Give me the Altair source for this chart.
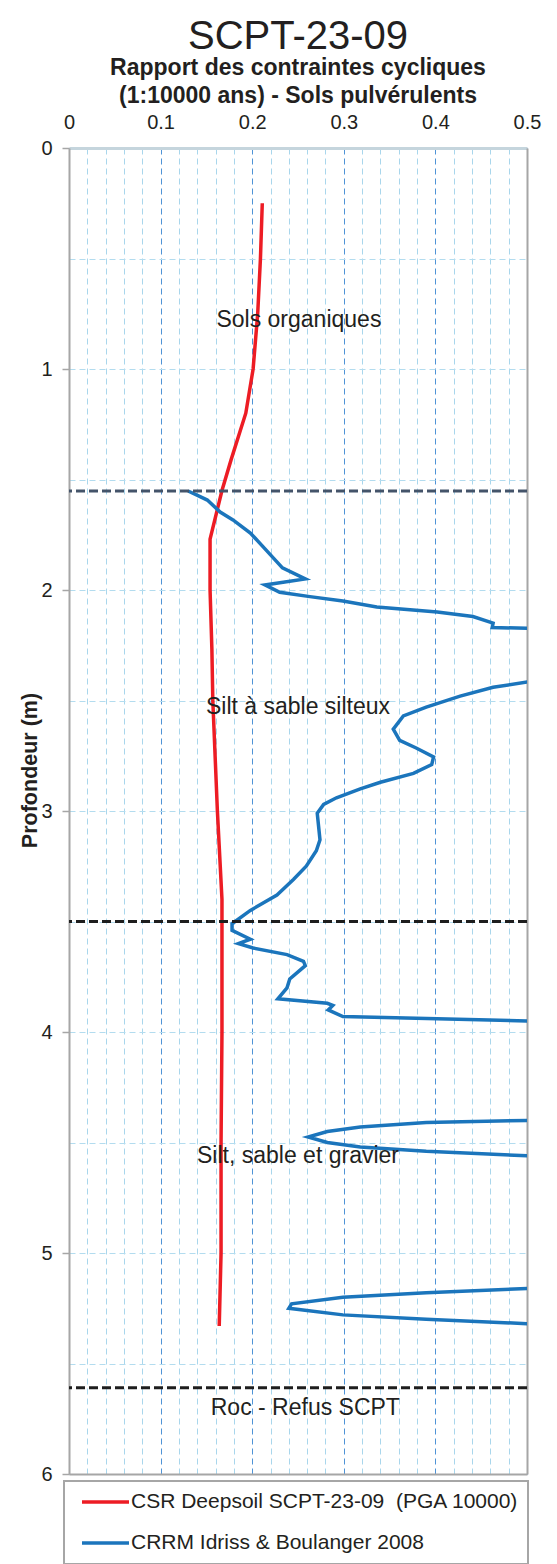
import altair as alt
import pandas as pd

FONT = "Liberation Sans"
TEXT_COLOR = "#231f20"

# CSR profile from Deepsoil (PGA 1:10000 ans)
csr_depth = [0.25, 0.5, 0.75, 1.0, 1.2, 1.41, 1.55, 1.77, 2.0, 2.27, 2.5,
             3.0, 3.4, 3.6, 4.0, 4.5, 5.0, 5.33]
csr_value = [0.211, 0.209, 0.206, 0.201, 0.193, 0.177, 0.167, 0.154, 0.154,
             0.156, 0.157, 0.162, 0.167, 0.167, 0.167, 0.166, 0.166, 0.164]

# CRR profile, Idriss & Boulanger 2008 (values beyond 0.5 run off the axis)
crr_depth = [1.552, 1.575, 1.593, 1.647, 1.683, 1.742, 1.805, 1.90, 1.95, 1.977,
             2.01, 2.03, 2.05, 2.077, 2.10, 2.12, 2.15, 2.17, 2.178, 2.37,
             2.416, 2.44, 2.48, 2.53, 2.57, 2.63, 2.68, 2.715, 2.755, 2.79,
             2.83, 2.87, 2.90, 2.94, 2.97, 3.01, 3.13, 3.18, 3.25, 3.31,
             3.38, 3.45, 3.51, 3.54, 3.58, 3.60, 3.62, 3.65, 3.68, 3.70,
             3.76, 3.80, 3.85, 3.87, 3.88, 3.90, 3.93, 3.94, 3.95, 3.951,
             4.399, 4.40, 4.41, 4.43, 4.45, 4.475, 4.50, 4.52, 4.54, 4.56,
             4.561, 5.159, 5.16, 5.18, 5.20, 5.23, 5.25, 5.28, 5.30, 5.32, 5.322]
crr_value = [0.130, 0.142, 0.151, 0.165, 0.179, 0.198, 0.212, 0.233, 0.258, 0.214,
             0.230, 0.263, 0.299, 0.336, 0.402, 0.441, 0.463, 0.462, 0.57, 0.57,
             0.501, 0.463, 0.427, 0.390, 0.365, 0.354, 0.361, 0.379, 0.398, 0.396,
             0.376, 0.340, 0.318, 0.292, 0.278, 0.271, 0.274, 0.270, 0.259, 0.245,
             0.227, 0.198, 0.178, 0.178, 0.198, 0.185, 0.201, 0.238, 0.256, 0.258,
             0.241, 0.238, 0.228, 0.282, 0.288, 0.283, 0.299, 0.402, 0.501, 0.6,
             0.6, 0.501, 0.390, 0.318, 0.282, 0.261, 0.282, 0.318, 0.390, 0.501,
             0.6, 0.6, 0.501, 0.390, 0.299, 0.243, 0.240, 0.299, 0.390, 0.501, 0.6]

# Stratigraphy: layer names and where they are written
layer_names = ["Sols organiques", "Silt à sable silteux",
               "Silt, sable et gravier", "Roc - Refus SCPT"]
layer_label_depth = [0.78, 2.53, 4.56, 5.70]
layer_label_x = [0.251, 0.25, 0.25, 0.258]

# Layer boundaries
boundary_depth = [1.552, 3.50, 5.61]
boundary_color = ["#44546a", "#1e1e1e", "#1e1e1e"]

# Axis tick positions
x_ticks = [round(i * 0.02, 2) for i in range(26)]
y_ticks = [i * 0.5 for i in range(13)]

series_csr = "CSR Deepsoil SCPT-23-09 \u00a0(PGA 10000)"
series_crr = "CRRM Idriss & Boulanger 2008"

df_csr = pd.DataFrame({"depth": csr_depth, "value": csr_value, "series": series_csr})
df_csr["i"] = range(len(df_csr))
df_crr = pd.DataFrame({"depth": crr_depth, "value": crr_value, "series": series_crr})
df_crr["i"] = range(len(df_crr))
df_labels = pd.DataFrame({"name": layer_names, "depth": layer_label_depth, "x": layer_label_x})
df_bound = pd.DataFrame({"depth": boundary_depth, "color": boundary_color})

xscale = alt.Scale(domain=[0, 0.5], nice=False, zero=False)
yscale = alt.Scale(domain=[0, 6], reverse=True, nice=False, zero=False)
color_scale = alt.Scale(domain=[series_csr, series_crr], range=["#ed1c24", "#1b75bc"])

major_test = "round(datum.value * 100) % 10 == 0"

top_axis = alt.Axis(
    orient="top", values=x_ticks, format="~g",
    labelExpr=f"{major_test} ? datum.label : ''",
    labelFlush=False, labelOverlap=False,
    grid=True,
    gridColor={"condition": {"test": major_test, "value": "#4f93d6"}, "value": "#a9d6ec"},
    gridDash=[6, 4], gridWidth=1,
    ticks=False, labelPadding=16, labelFontSize=20, labelColor=TEXT_COLOR, labelFont=FONT,
    domainColor="#c5d5dd", domainWidth=3, title=None,
)

left_axis = alt.Axis(
    orient="left", values=y_ticks, format="~g",
    labelExpr="datum.value % 1 == 0 ? datum.label : ''",
    labelFlush=False, labelOverlap=False,
    grid=True, gridColor="#b3dcef", gridDash=[6, 4], gridWidth=1,
    tickColor="#a6a6a6",
    tickOpacity={"condition": {"test": "datum.value % 1 == 0", "value": 1}, "value": 0},
    tickSize=7, tickWidth=1.5,
    labelPadding=10, labelFontSize=20, labelColor=TEXT_COLOR, labelFont=FONT,
    domainColor="#a6a6a6", domainWidth=2,
    title="Profondeur (m)", titleFont=FONT, titleFontSize=21.5, titleFontWeight="bold",
    titleColor=TEXT_COLOR, titleX=-39, titleY=622, titleAngle=270,
    titleBaseline="middle", titleAlign="center",
)

bottom_axis = alt.Axis(orient="bottom", labels=False, ticks=False, grid=False,
                       domainColor="#a6a6a6", domainWidth=2, title=None)
right_axis = alt.Axis(orient="right", labels=False, ticks=False, grid=False,
                      domainColor="#a6a6a6", domainWidth=2, title=None)

legend = alt.Legend(
    orient="none", legendX=-5, legendY=1333, title=None,
    symbolType="stroke", symbolSize=2209, symbolStrokeWidth=3.5,
    clipHeight=24, rowPadding=17, padding=9, symbolOffset=7, labelOffset=0,
    labelFontSize=21, labelFont=FONT, labelColor=TEXT_COLOR, labelLimit=600,
    strokeColor="#a6a6a6", fillColor="white",
)

csr_line = alt.Chart(df_csr).mark_line(strokeWidth=3.5, clip=True).encode(
    x=alt.X("value:Q", scale=xscale, axis=top_axis),
    y=alt.Y("depth:Q", scale=yscale, axis=left_axis),
    order=alt.Order("i:Q"),
    color=alt.Color("series:N", scale=color_scale, legend=legend),
)

crr_line = alt.Chart(df_crr).mark_line(strokeWidth=3.5, clip=True).encode(
    x=alt.X("value:Q", scale=xscale, axis=bottom_axis),
    y=alt.Y("depth:Q", scale=yscale, axis=right_axis),
    order=alt.Order("i:Q"),
    color=alt.Color("series:N", scale=color_scale, legend=legend),
)

bounds = alt.Chart(df_bound).mark_rule(strokeWidth=3, strokeDash=[9, 4]).encode(
    y=alt.Y("depth:Q", scale=yscale, axis=None),
    color=alt.Color("color:N", scale=None),
)

labels = alt.Chart(df_labels).mark_text(
    font=FONT, fontSize=23, color=TEXT_COLOR, align="center", baseline="middle"
).encode(
    x=alt.X("x:Q", scale=xscale, axis=None),
    y=alt.Y("depth:Q", scale=yscale, axis=None),
    text="name:N",
)

chart = alt.layer(csr_line, crr_line, bounds, labels).resolve_axis(
    x="independent", y="independent"
).properties(
    width=458, height=1326,
    autosize=alt.AutoSizeParams(type="none"),
    padding={"left": 69, "top": 148, "right": 30, "bottom": 90},
    title=alt.TitleParams(
        text="SCPT-23-09",
        subtitle=["Rapport des contraintes cycliques", "(1:10000 ans) - Sols pulvérulents"],
        font=FONT, fontSize=40, fontWeight="normal", color=TEXT_COLOR,
        subtitleFont=FONT, subtitleFontSize=23, subtitleFontWeight="bold",
        subtitleColor=TEXT_COLOR, subtitleLineHeight=28, subtitlePadding=0,
        anchor="middle", offset=4,
    ),
).configure_view(stroke=None).configure_legend(strokeWidth=2)

chart.save("out.html", embed_options={"renderer": "svg", "actions": False})
